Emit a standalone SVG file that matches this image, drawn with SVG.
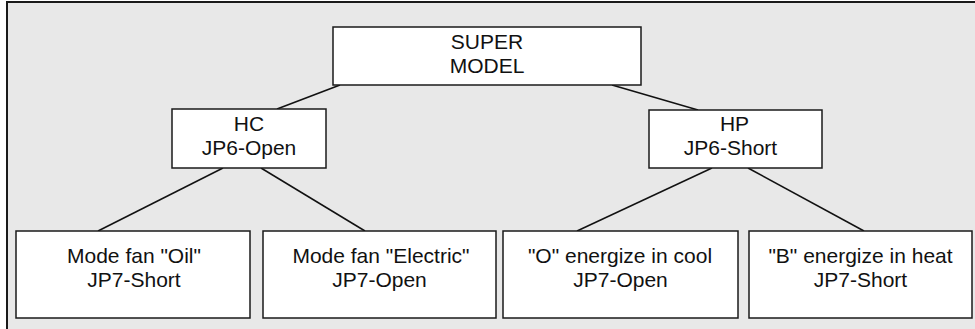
<svg xmlns="http://www.w3.org/2000/svg" width="975" height="329" viewBox="0 0 975 329">
  <style>
    .node rect { fill: #ffffff; stroke: #1a1a1a; stroke-width: 1.5; }
    .node text { font-family: "Liberation Sans", Arial, sans-serif; font-size: 21px; fill: #111111; text-anchor: middle; }
    .conn line { stroke: #111111; stroke-width: 1.5; }
  </style>
  <rect x="0" y="0" width="975" height="329" fill="#ffffff"/>
  <rect id="frame" x="7" y="2" width="990" height="350" fill="#e8e8e8" stroke="#1a1a1a" stroke-width="2"/>
  <g id="connectors" class="conn">
    <line x1="340" y1="85" x2="277" y2="109"/>
    <line x1="612" y1="85" x2="698" y2="110"/>
    <line x1="223" y1="168" x2="98" y2="231"/>
    <line x1="261" y1="168" x2="365" y2="231"/>
    <line x1="712" y1="168" x2="577" y2="231"/>
    <line x1="748" y1="168" x2="864" y2="231"/>
  </g>
  <g id="super" class="node">
    <rect x="333" y="27" width="308" height="58"/>
    <text x="487" y="48.5">SUPER</text>
    <text x="487" y="72.7">MODEL</text>
  </g>
  <g id="hc" class="node">
    <rect x="172" y="109" width="154" height="59"/>
    <text x="249" y="130.7">HC</text>
    <text x="249" y="155">JP6-Open</text>
  </g>
  <g id="hp" class="node">
    <rect x="649" y="110" width="173" height="58"/>
    <text x="734.5" y="130.7">HP</text>
    <text x="730.5" y="155">JP6-Short</text>
  </g>
  <g id="oil" class="node">
    <rect x="16" y="231" width="234" height="87"/>
    <text x="134" y="262.7">Mode fan "Oil"</text>
    <text x="134" y="286.7">JP7-Short</text>
  </g>
  <g id="electric" class="node">
    <rect x="263" y="231" width="233" height="87"/>
    <text x="381" y="262.7">Mode fan "Electric"</text>
    <text x="379.5" y="286.7">JP7-Open</text>
  </g>
  <g id="cool" class="node">
    <rect x="503" y="231" width="235" height="87"/>
    <text x="620" y="262.7">"O" energize in cool</text>
    <text x="620.5" y="286.7">JP7-Open</text>
  </g>
  <g id="heat" class="node">
    <rect x="749" y="231" width="223" height="87"/>
    <text x="860.5" y="262.7">"B" energize in heat</text>
    <text x="860.5" y="286.7">JP7-Short</text>
  </g>
</svg>
